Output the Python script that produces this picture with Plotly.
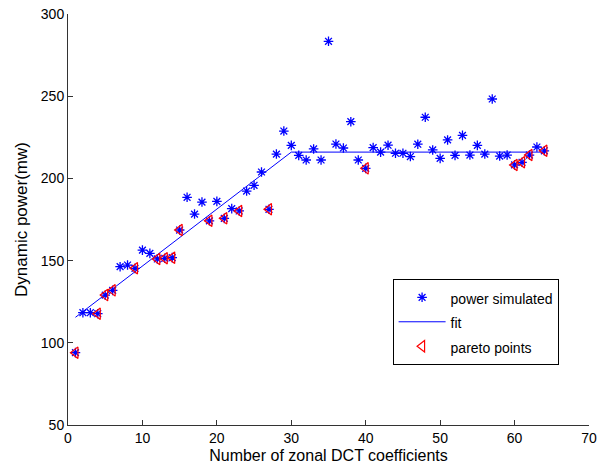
import plotly.graph_objects as go

# Data
x_sim = list(range(1, 65))
y_sim = [94, 118.3, 118.3, 117.7, 129, 131.9, 146.3, 147.3, 145.3, 156.4,
         154.4, 151, 151.4, 151.8, 168.6, 188.5, 178.3, 185.6, 174.2, 186,
         175.7, 181.6, 180.2, 192.3, 195.8, 203.9, 181.2, 214.8, 228.8, 220.1,
         214, 211.2, 217.9, 211.2, 283.4, 220.9, 218.5, 234.5, 211.2, 206.1,
         218.7, 216, 220.2, 215.3, 215.3, 213.3, 220.8, 237.2, 217.3, 212.2,
         223.4, 214, 226.2, 214.2, 220.1, 214.8, 248.3, 213.6, 214.2, 208.2,
         209.8, 214.2, 219.1, 216.8]

x_fit = [1, 30, 64]
y_fit = [115.5, 216, 216]

x_pareto = [1, 4, 5, 6, 9, 12, 13, 14, 15, 19, 21, 23, 27, 40, 60, 61, 62, 64]
y_pareto = [94, 117.7, 129, 131.9, 145.3, 151, 151.4, 151.8, 168.6, 174.2,
            175.7, 180.2, 181.2, 206.1, 208.2, 209.8, 214.2, 216.8]

x_ticks = [0, 10, 20, 30, 40, 50, 60, 70]
y_ticks = [50, 100, 150, 200, 250, 300]

FONT = "Liberation Sans, Arial, sans-serif"

def lg(name):
    return "<span style='font-size:14px'>" + name + "</span>"

fig = go.Figure()
fig.add_trace(go.Scatter(
    x=x_sim, y=y_sim, mode="markers", name=lg("power simulated"),
    marker=dict(symbol="asterisk-open", size=8, color="blue",
                line=dict(color="blue", width=1.3)),
))
fig.add_trace(go.Scatter(
    x=x_fit, y=y_fit, mode="lines", name=lg("fit"),
    line=dict(color="blue", width=1),
))
fig.add_trace(go.Scatter(
    x=x_pareto, y=y_pareto, mode="markers", name=lg("pareto points"),
    marker=dict(symbol="triangle-left-open", size=10, color="red",
                line=dict(color="red", width=1.2)),
))

axis_common = dict(
    showgrid=False, zeroline=False, showline=True, linecolor="#333333",
    linewidth=1, ticks="inside", ticklen=5, tickcolor="#333333",
    tickfont=dict(family=FONT, size=14, color="black"), mirror=False,
    automargin=False,
)

fig.update_layout(
    width=604, height=465,
    margin=dict(l=68, r=15, t=14, b=40),
    paper_bgcolor="white", plot_bgcolor="white",
    font=dict(family=FONT, color="black"),
    xaxis=dict(range=[0, 70], tickvals=x_ticks,
               title=dict(text="Number of zonal DCT coefficients",
                          font=dict(family=FONT, size=16), standoff=5),
               **axis_common),
    yaxis=dict(range=[50, 300], tickvals=y_ticks,
               title=dict(text="Dynamic power(mw)",
                          font=dict(family=FONT, size=17), standoff=8),
               **axis_common),
    legend=dict(x=0.623, y=0.355, xanchor="left", yanchor="top",
                bordercolor="black", borderwidth=1, bgcolor="white",
                font=dict(family=FONT, size=16.5), itemwidth=47),
    showlegend=True,
)

fig.write_html(
    "out.html",
    config={"displayModeBar": False},
    post_script="document.body.style.margin='0';document.body.style.overflow='hidden';",
)
